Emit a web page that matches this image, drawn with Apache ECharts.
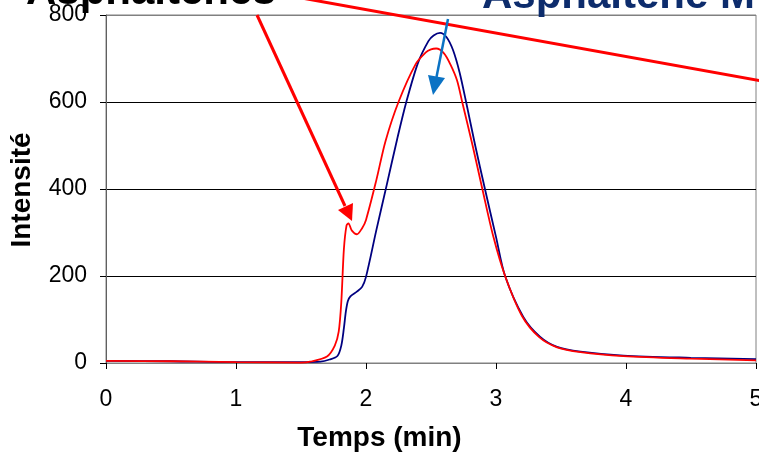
<!DOCTYPE html>
<html>
<head>
<meta charset="utf-8">
<script src="https://cdn.jsdelivr.net/npm/echarts@6/dist/echarts.min.js"></script>
<style>
  html, body { margin: 0; padding: 0; background: #fff; }
  #main { width: 759px; height: 458px; }
</style>
</head>
<body>
<div id="main"></div>
<script>
// temps (min) / intensité
var blueTime = [0, 0.5, 1.0, 1.5, 1.65, 1.72, 1.78, 1.81, 1.83, 1.845, 1.86, 1.88, 1.93, 1.97, 2.0, 2.08, 2.16, 2.24, 2.31, 2.40, 2.48, 2.52, 2.57, 2.62, 2.67, 2.72, 2.77, 2.84, 2.915, 3.0, 3.07, 3.21, 3.34, 3.47, 3.65, 3.98, 4.5, 5.0]
var blueValue = [5, 4, 2, 2, 3, 8, 16, 40, 80, 118, 142, 153, 164, 175, 198, 306, 410, 515, 600, 690, 740, 753, 759, 749, 719, 668, 600, 500, 400, 290, 200, 106, 60, 37, 26, 17, 12, 9]

var redTime = [0, 0.5, 1.0, 1.5, 1.57, 1.70, 1.76, 1.79, 1.81, 1.83, 1.85, 1.865, 1.89, 1.93, 1.97, 2.0, 2.08, 2.15, 2.25, 2.38, 2.46, 2.50, 2.54, 2.60, 2.65, 2.70, 2.74, 2.82, 2.895, 2.98, 3.07, 3.2, 3.33, 3.47, 3.65, 3.98, 4.5, 5.0]
var redValue = [5, 4, 2, 1, 3, 15, 40, 72, 140, 262, 316, 321, 305, 296, 310, 329, 421, 510, 600, 686, 714, 721, 723, 712, 686, 650, 600, 500, 400, 290, 200, 108, 60, 36, 25, 16, 10, 6]

var xTicks = [0, 1, 2, 3, 4, 5]
var yTicks = [0, 200, 400, 600, 800]

function pairs (t, v) {
  return t.map(function (x, i) { return [x, v[i]] })
}

var chart = echarts.init(document.getElementById('main'))
var font = 'Arial, "Liberation Sans", sans-serif'

chart.setOption({
  animation: false,
  grid: {
    left: 106,
    right: 3,
    top: 15,
    bottom: 95,
    containLabel: false,
    outerBoundsMode: 'none',
    show: true,
    borderColor: '#808080',
    borderWidth: 1
  },
  xAxis: {
    type: 'value',
    min: xTicks[0],
    max: xTicks[xTicks.length - 1],
    interval: 1,
    axisLine: { show: true, lineStyle: { color: '#808080', width: 1 } },
    axisTick: { show: true, length: 6, lineStyle: { color: '#000' } },
    axisLabel: { color: '#000', fontSize: 23, fontFamily: font, margin: 25, hideOverlap: false },
    splitLine: { show: false }
  },
  yAxis: {
    type: 'value',
    min: yTicks[0],
    max: yTicks[yTicks.length - 1],
    interval: 200,
    axisLine: { show: true, lineStyle: { color: '#606060', width: 1 } },
    axisTick: { show: true, length: 6, lineStyle: { color: '#000' } },
    axisLabel: { color: '#000', fontSize: 23, fontFamily: font, margin: 19 },
    splitLine: { show: true, lineStyle: { color: ['#808080', '#000', '#000', '#000', '#808080'], width: 1 } }
  },
  series: [
    {
      name: 'bleu',
      type: 'line',
      data: pairs(blueTime, blueValue),
      smooth: 0.3,
      showSymbol: false,
      lineStyle: { color: '#000080', width: 1.8 },
      z: 2
    },
    {
      name: 'rouge',
      type: 'line',
      data: pairs(redTime, redValue),
      smooth: 0.3,
      showSymbol: false,
      lineStyle: { color: '#ff0000', width: 1.8 },
      z: 3
    }
  ],
  graphic: [
    // titres des axes
    {
      type: 'text', left: 'center', x: 0, top: 424, z: 10,
      style: { text: 'Temps (min)', font: 'bold 28px ' + font, fill: '#000' }
    },
    {
      type: 'text', x: 8, y: 190, rotation: Math.PI / 2, z: 10,
      style: { text: 'Intensité', font: 'bold 28px ' + font, fill: '#000', align: 'center', verticalAlign: 'top' }
    },
    // annotations
    {
      type: 'text', x: 26, y: 13, z: 10,
      style: { text: 'Asphaltènes', font: 'bold 42px ' + font, fill: '#000', verticalAlign: 'bottom' }
    },
    {
      type: 'text', x: 482, y: 17, z: 10,
      style: { text: 'Asphaltène M', font: 'bold 42px ' + font, fill: '#0d2c6c', verticalAlign: 'bottom' }
    },
    {
      type: 'line', z: 11,
      shape: { x1: 285, y1: -5, x2: 762, y2: 81 },
      style: { stroke: '#ff0000', lineWidth: 3 }
    },
    {
      type: 'line', z: 11,
      shape: { x1: 257, y1: 15, x2: 345, y2: 206 },
      style: { stroke: '#ff0000', lineWidth: 3 }
    },
    {
      type: 'polygon', z: 11,
      shape: { points: [[352, 221], [338, 210], [353, 203]] },
      style: { fill: '#ff0000' }
    },
    {
      type: 'line', z: 11,
      shape: { x1: 448, y1: 19, x2: 436.5, y2: 77 },
      style: { stroke: '#0a72c4', lineWidth: 2.5 }
    },
    {
      type: 'polygon', z: 11,
      shape: { points: [[433, 95], [428, 75], [445, 78]] },
      style: { fill: '#0a72c4' }
    }
  ]
})
</script>
</body>
</html>
